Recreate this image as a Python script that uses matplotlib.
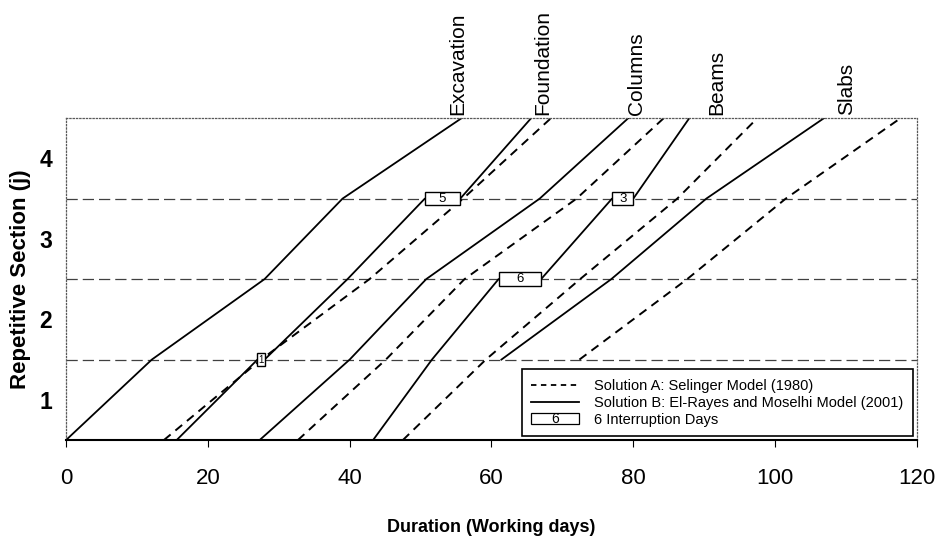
import numpy as np
import matplotlib
matplotlib.use('Agg')
import matplotlib.pyplot as plt
from matplotlib.lines import Line2D
from matplotlib.patches import Rectangle
from matplotlib.legend_handler import HandlerBase
from matplotlib.text import Text

plt.rcParams['font.family'] = ['Liberation Sans', 'DejaVu Sans']

# section boundaries (bottom of section 1 ... top of section 4)
boundaries = [0.5, 1.5, 2.5, 3.5, 4.5]
activities = ['Excavation', 'Foundation', 'Columns', 'Beams', 'Slabs']

# Solution A: Selinger model, day at each section boundary
a_foundation = [13.8, 27.5, 42.8, 56.0, 68.4]
a_columns = [32.7, 45.1, 56.2, 72.0, 84.3]
a_beams = [47.5, 59.2, 72.5, 86.2, 97.5]
a_slabs = [np.nan, 72.4, 87.6, 101.5, 117.7]

# Solution B: El-Rayes and Moselhi model, day at each section boundary
b_excavation = [0.0, 12.1, 28.0, 39.0, 55.8]
b_foundation = [15.6, 27.0, 39.7, 50.6, 65.6]
b_columns = [27.3, 40.0, 50.8, 66.8, 79.3]
b_beams = [43.3, 51.6, 61.0, 77.0, 87.9]
b_slabs = [np.nan, 61.4, 76.9, 90.3, 106.9]

# interruptions in solution B
int_activity = ['Foundation', 'Foundation', 'Beams', 'Beams']
int_section = [1.5, 3.5, 2.5, 3.5]
int_days = [1, 5, 6, 3]

label_x = [55.2, 67.2, 80.4, 91.7, 110.0]

sol_a = {'Foundation': a_foundation, 'Columns': a_columns,
         'Beams': a_beams, 'Slabs': a_slabs}
sol_b = {'Excavation': b_excavation, 'Foundation': b_foundation,
         'Columns': b_columns, 'Beams': b_beams, 'Slabs': b_slabs}


def with_breaks(name, xs):
    px, py = [], []
    for x, y in zip(xs, boundaries):
        px.append(x)
        py.append(y)
        for act, sec, d in zip(int_activity, int_section, int_days):
            if act == name and sec == y:
                px.append(x + d)
                py.append(y)
    return px, py


class BoxHandler(HandlerBase):
    def create_artists(self, legend, orig_handle, xdescent, ydescent,
                       width, height, fontsize, trans):
        r = Rectangle((-xdescent, -ydescent - height * 0.05), width, height * 1.1,
                      facecolor='white', edgecolor='black', lw=0.9, transform=trans)
        t = Text(-xdescent + width / 2, -ydescent + height / 2, '6',
                 ha='center', va='center', fontsize=fontsize * 0.95, transform=trans)
        return [r, t]


fig = plt.figure(figsize=(9.43, 5.38), dpi=100)
ax = fig.add_axes([0.070, 0.182, 0.9024, 0.5985])

for y in [1.5, 2.5, 3.5]:
    ax.axhline(y, color='0.25', lw=0.9, dashes=(9, 4), zorder=1)

for name, xs in sol_a.items():
    ax.plot(xs, boundaries, color='black', lw=1.4, dashes=(4.5, 3.2), zorder=2)

for name, xs in sol_b.items():
    px, py = with_breaks(name, xs)
    ax.plot(px, py, color='black', lw=1.3, zorder=2)

box_h = 0.17
for act, sec, d in zip(int_activity, int_section, int_days):
    x0 = sol_b[act][boundaries.index(sec)]
    ax.add_patch(Rectangle((x0, sec - box_h / 2), d, box_h, facecolor='white',
                           edgecolor='black', lw=1.0, zorder=3))
    ax.text(x0 + d / 2, sec, str(d), ha='center', va='center',
            fontsize=9.5 if d > 1 else 7, zorder=4)

for name, x in zip(activities, label_x):
    ax.text(x, 4.54, name, rotation=90, ha='center', va='bottom',
            fontsize=15, clip_on=False)

ax.set_xlim(0, 120)
ax.set_ylim(0.5, 4.5)
ax.set_xticks(range(0, 121, 20))
ax.set_yticks([1, 2, 3, 4])
ax.tick_params(axis='x', direction='out', length=5, width=0.8, labelsize=16, pad=15)
ax.tick_params(axis='y', length=0, labelsize=16.5, pad=10)
for lab in ax.get_yticklabels():
    lab.set_fontweight('bold')

for side in ['top', 'left', 'right']:
    ax.spines[side].set_linestyle(':')
    ax.spines[side].set_color('0.35')
    ax.spines[side].set_linewidth(0.9)
ax.spines['bottom'].set_linewidth(1.5)

ax.set_xlabel('Duration (Working days)', fontsize=13, fontweight='bold', va='center')
ax.set_ylabel('Repetitive Section (j)', fontsize=16, fontweight='bold', va='center')
ax.xaxis.set_label_coords(0.5, -0.27)
ax.yaxis.set_label_coords(-0.054, 0.5)

handles = [Line2D([], [], color='black', lw=1.3, dashes=(3, 2.5)),
           Line2D([], [], color='black', lw=1.3),
           Rectangle((0, 0), 1, 1)]
labels = ['Solution A: Selinger Model (1980)',
          'Solution B: El-Rayes and Moselhi Model (2001)',
          '6 Interruption Days']
leg = ax.legend(handles, labels, loc='lower right', bbox_to_anchor=(0.995, 0.012),
                borderaxespad=0, fontsize=10.5, handlelength=3.3, handletextpad=1.0,
                borderpad=0.65, labelspacing=0.2, fancybox=False, framealpha=1,
                handler_map={Rectangle: BoxHandler()})
leg.get_frame().set_edgecolor('black')
leg.get_frame().set_linewidth(1.2)
leg.set_zorder(5)

fig.savefig('out.png', dpi=100)
